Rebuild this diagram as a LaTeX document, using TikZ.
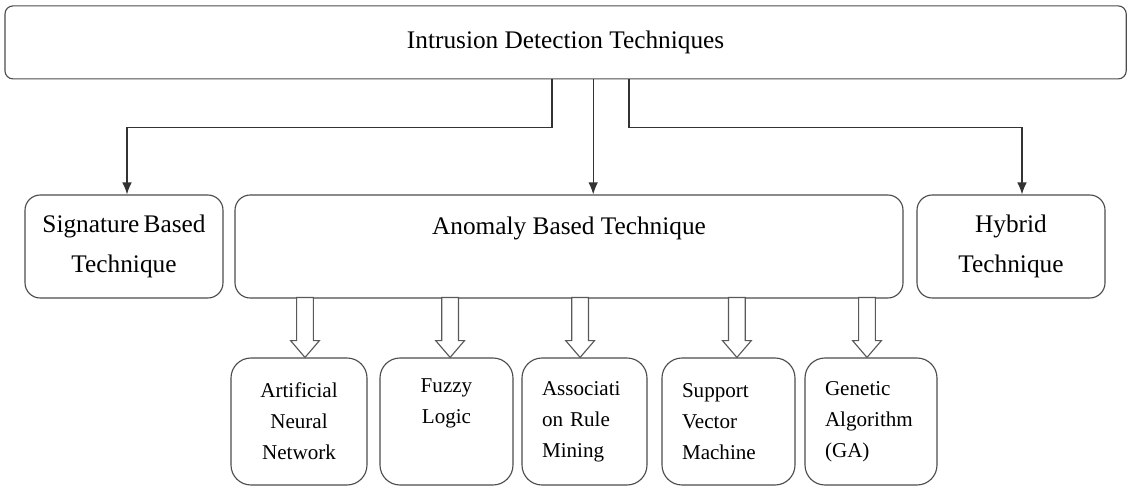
\documentclass[tikz,border=0pt]{standalone}
\usepackage{fontspec}
\setmainfont{Liberation Serif}
\usetikzlibrary{arrows.meta}

\tikzset{
	box/.style = {draw=black!70, line width=0.8pt, rounded corners=0.38cm, align=center, font=\fontsize{18}{28.5}\selectfont},
	method/.style = {draw=black!70, line width=0.8pt, rounded corners=0.5cm, minimum height=3.175cm, font=\fontsize{15}{22}\selectfont},
	hollow/.style = {draw=black!65, line width=0.8pt, fill=white},
	link/.style = {draw=black!80, line width=0.9pt, -{Latex[length=3mm,width=2.4mm]}}
}

\begin{document}
\begin{tikzpicture}
	\useasboundingbox (0,0) rectangle (28.2,12.2);
	\node[box, rounded corners=0.2cm, minimum width=28.03cm, minimum height=1.825cm] (idt) at (14.14,11.14) {Intrusion Detection Techniques};

	\node[box, minimum width=4.95cm, minimum height=2.575cm] (sig) at (3.1,6.0375) {Signature\,Based\\Technique};
	\node[box, minimum width=16.7cm, inner ysep=0.3cm, text height=0.675cm, text depth=1.3cm] (anomaly) at (14.225,6.0375) {Anomaly Based Technique};
	\node[box, minimum width=4.7cm, minimum height=2.575cm] (hyb) at (25.275,6.0375) {Hybrid\\Technique};

	\node[method, minimum width=3.4cm, align=center] (ann) at (7.475,1.6625) {Artificial\\Neural\\Network};
	\node[method, minimum width=3.325cm, align=center] (fuzzy) at (11.1625,1.6625) {Fuzzy\\Logic\\\strut};
	\node[method, text width=2.125cm, inner xsep=0.5cm, align=left] (assoc) at (14.6125,1.6625) {Associati\\on Rule\\Mining};
	\node[method, text width=2.325cm, inner xsep=0.5cm, align=left] (svm) at (18.2125,1.6625) {Support\\Vector\\Machine};
	\node[method, text width=2.3cm, inner xsep=0.5cm, align=left] (ga) at (21.775,1.6625) {Genetic\\Algorithm\\(GA)};

	\draw[link] ([xshift=-0.34cm]idt.south) -- ++(0,-1.2) -| ([xshift=0.075cm]sig.north);
	\draw[link] ([xshift=0.69cm]idt.south) -- ([xshift=0.69cm]idt.south |- anomaly.north);
	\draw[link] ([xshift=1.585cm]idt.south) -- ++(0,-1.2) -| ([xshift=0.275cm]hyb.north);

	\foreach \n/\dx in {ann/0.15, fuzzy/0.09, assoc/-0.11, svm/0.21, ga/-0.1}
		\draw[hollow] ([xshift=\dx cm]\n.north) -- ++(0.36,0.42) -- ++(-0.15,0) -- ++(0,1.08) -- ++(-0.42,0) -- ++(0,-1.08) -- ++(-0.15,0) -- cycle;
\end{tikzpicture}
\end{document}
